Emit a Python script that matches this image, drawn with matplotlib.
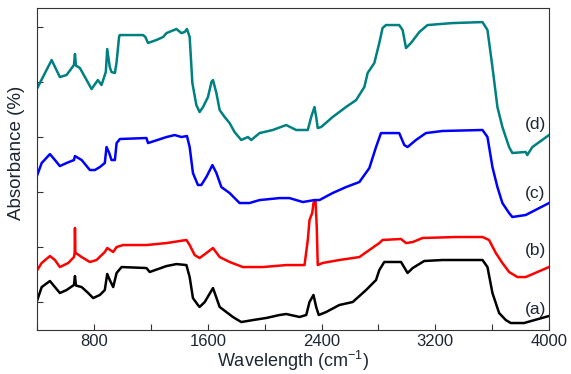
import matplotlib.pyplot as plt
from matplotlib.ticker import MultipleLocator, NullFormatter

plt.rcParams['font.family'] = ['Liberation Sans', 'DejaVu Sans']

# (a) black
a_x = [400, 431, 489, 524, 559, 606, 658, 665, 672, 712, 758, 793, 840, 875, 892, 910, 934, 958, 993,
       1168, 1191, 1309, 1379, 1449, 1472, 1495, 1530, 1542, 1578, 1636, 1683, 1730, 1776, 1835, 1917,
       2011, 2104, 2151, 2245, 2292, 2315, 2343, 2362, 2380, 2432, 2525, 2619, 2713, 2783, 2806, 2841,
       2959, 3005, 3041, 3122, 3251, 3532, 3567, 3602, 3649, 3696, 3731, 3824, 4000]
a_y = [0.518, 0.636, 0.691, 0.636, 0.582, 0.609, 0.655, 0.736, 0.65, 0.636, 0.582, 0.536, 0.564, 0.609,
       0.755, 0.70, 0.636, 0.764, 0.818, 0.809, 0.773, 0.827, 0.845, 0.836, 0.727, 0.536, 0.473, 0.455,
       0.50, 0.627, 0.455, 0.409, 0.364, 0.318, 0.336, 0.355, 0.382, 0.391, 0.364, 0.382, 0.50, 0.564,
       0.455, 0.382, 0.409, 0.473, 0.50, 0.609, 0.70, 0.79, 0.864, 0.864, 0.764, 0.809, 0.873, 0.882,
       0.882, 0.818, 0.582, 0.40, 0.336, 0.309, 0.309, 0.373]

# (b) red
b_x = [400, 431, 489, 524, 559, 618, 658, 663, 665, 668, 672, 712, 770, 817, 875, 892, 934, 958, 1004,
       1168, 1309, 1449, 1472, 1507, 1542, 1589, 1636, 1683, 1753, 1846, 1987, 2151, 2280, 2303, 2315,
       2334, 2343, 2357, 2366, 2373, 2408, 2525, 2666, 2736, 2806, 2829, 2959, 2994, 3041, 3110, 3344,
       3532, 3578, 3626, 3672, 3719, 3778, 3836, 4000]
b_y = [0.791, 0.855, 0.918, 0.882, 0.818, 0.855, 0.909, 0.95, 1.173, 0.95, 0.945, 0.909, 0.864, 0.882,
       0.955, 0.991, 0.955, 1.0, 1.018, 1.018, 1.036, 1.064, 1.018, 0.927, 0.90, 0.945, 0.991, 0.909,
       0.864, 0.818, 0.818, 0.836, 0.836, 1.064, 1.245, 1.309, 1.40, 1.427, 1.182, 0.836, 0.855, 0.882,
       0.909, 0.973, 1.036, 1.064, 1.073, 1.036, 1.045, 1.082, 1.091, 1.091, 1.064, 0.945, 0.855, 0.773,
       0.727, 0.727, 0.818]

# (c) blue
c_x = [400, 431, 489, 524, 559, 606, 658, 665, 712, 770, 805, 840, 875, 887, 906, 922, 946, 958, 981,
       1168, 1179, 1309, 1367, 1414, 1453, 1472, 1495, 1530, 1554, 1589, 1632, 1660, 1695, 1753, 1823,
       1893, 1964, 2104, 2174, 2268, 2350, 2385, 2478, 2572, 2666, 2736, 2783, 2818, 2946, 2982, 3005,
       3064, 3134, 3251, 3532, 3567, 3602, 3637, 3672, 3719, 3742, 3836, 4000]
c_y = [1.655, 1.764, 1.845, 1.791, 1.736, 1.764, 1.791, 1.827, 1.791, 1.70, 1.70, 1.727, 1.764, 1.909,
       1.855, 1.791, 1.791, 1.945, 1.982, 1.991, 1.945, 2.0, 2.018, 2.0, 2.009, 1.909, 1.673, 1.564,
       1.564, 1.636, 1.745, 1.673, 1.545, 1.491, 1.40, 1.40, 1.427, 1.445, 1.445, 1.409, 1.427, 1.427,
       1.491, 1.545, 1.591, 1.718, 1.909, 2.036, 2.036, 1.927, 1.909, 1.973, 2.036, 2.055, 2.064, 2.0,
       1.727, 1.545, 1.40, 1.309, 1.273, 1.291, 1.40]

# (d) teal
d_x = [400, 501, 559, 606, 658, 665, 672, 700, 747, 782, 826, 852, 882, 892, 910, 922, 946, 958, 976,
       981, 1144, 1160, 1179, 1238, 1285, 1309, 1379, 1414, 1437, 1453, 1472, 1491, 1519, 1542, 1566,
       1601, 1625, 1636, 1660, 1683, 1718, 1753, 1788, 1835, 1882, 1905, 1964, 2057, 2151, 2221, 2303,
       2327, 2350, 2362, 2373, 2397, 2478, 2572, 2643, 2701, 2724, 2771, 2806, 2829, 2853, 2946, 2970,
       2994, 3029, 3088, 3145, 3321, 3532, 3567, 3602, 3637, 3672, 3719, 3742, 3836, 3847, 3883, 4000]
d_y = [2.445, 2.70, 2.545, 2.564, 2.655, 2.755, 2.65, 2.627, 2.518, 2.436, 2.518, 2.473, 2.591, 2.80,
       2.636, 2.591, 2.582, 2.682, 2.918, 2.927, 2.927, 2.91, 2.855, 2.882, 2.909, 2.945, 2.982, 2.945,
       2.955, 2.982, 2.909, 2.491, 2.291, 2.227, 2.273, 2.364, 2.50, 2.518, 2.40, 2.245, 2.182, 2.127,
       2.045, 1.973, 2.0, 1.973, 2.036, 2.064, 2.109, 2.064, 2.064, 2.182, 2.273, 2.182, 2.082, 2.091,
       2.182, 2.273, 2.336, 2.455, 2.582, 2.673, 2.855, 2.991, 3.018, 3.018, 2.973, 2.809, 2.855, 2.955,
       3.018, 3.036, 3.045, 2.973, 2.636, 2.273, 2.091, 1.909, 1.855, 1.864, 1.836, 1.909, 2.018]

labels = ["(a)", "(b)", "(c)", "(d)"]
label_y = [0.43, 0.97, 1.49, 2.11]

txt = '#1e2633'

fig = plt.figure(figsize=(5.71, 3.74), dpi=100)
ax = fig.add_axes([0.0653, 0.1176, 0.8962, 0.861])

ax.plot(a_x, a_y, color='black', lw=1.8)
ax.plot(b_x, b_y, color='#ff0000', lw=1.8)
ax.plot(c_x, c_y, color='#0000ff', lw=1.8)
ax.plot(d_x, d_y, color='#008080', lw=1.8)

for i in range(len(labels)):
    ax.text(3905, label_y[i], labels[i], fontsize=12.5, ha='center', va='center', color=txt)

ax.set_xlim(400, 4000)
ax.set_ylim(0.2455, 3.173)
ax.xaxis.set_major_locator(MultipleLocator(800))
ax.xaxis.set_minor_locator(MultipleLocator(400))
ax.yaxis.set_major_locator(MultipleLocator(1.0))
ax.yaxis.set_minor_locator(MultipleLocator(0.5))
ax.yaxis.set_major_formatter(NullFormatter())
ax.tick_params(which='both', direction='in', length=4, width=0.8, color='#333333')
ax.tick_params(axis='x', labelsize=12, pad=3, labelcolor=txt)
for s in ax.spines.values():
    s.set_color('#333333')

ax.set_xlabel("Wavelength (cm$^{\\mathregular{-1}}$)", fontsize=13, labelpad=0, color=txt)
ax.set_ylabel("Absorbance (%)", fontsize=13.5, color=txt)
ax.yaxis.set_label_coords(-0.024, 0.55)

plt.savefig("out.png", dpi=100)
